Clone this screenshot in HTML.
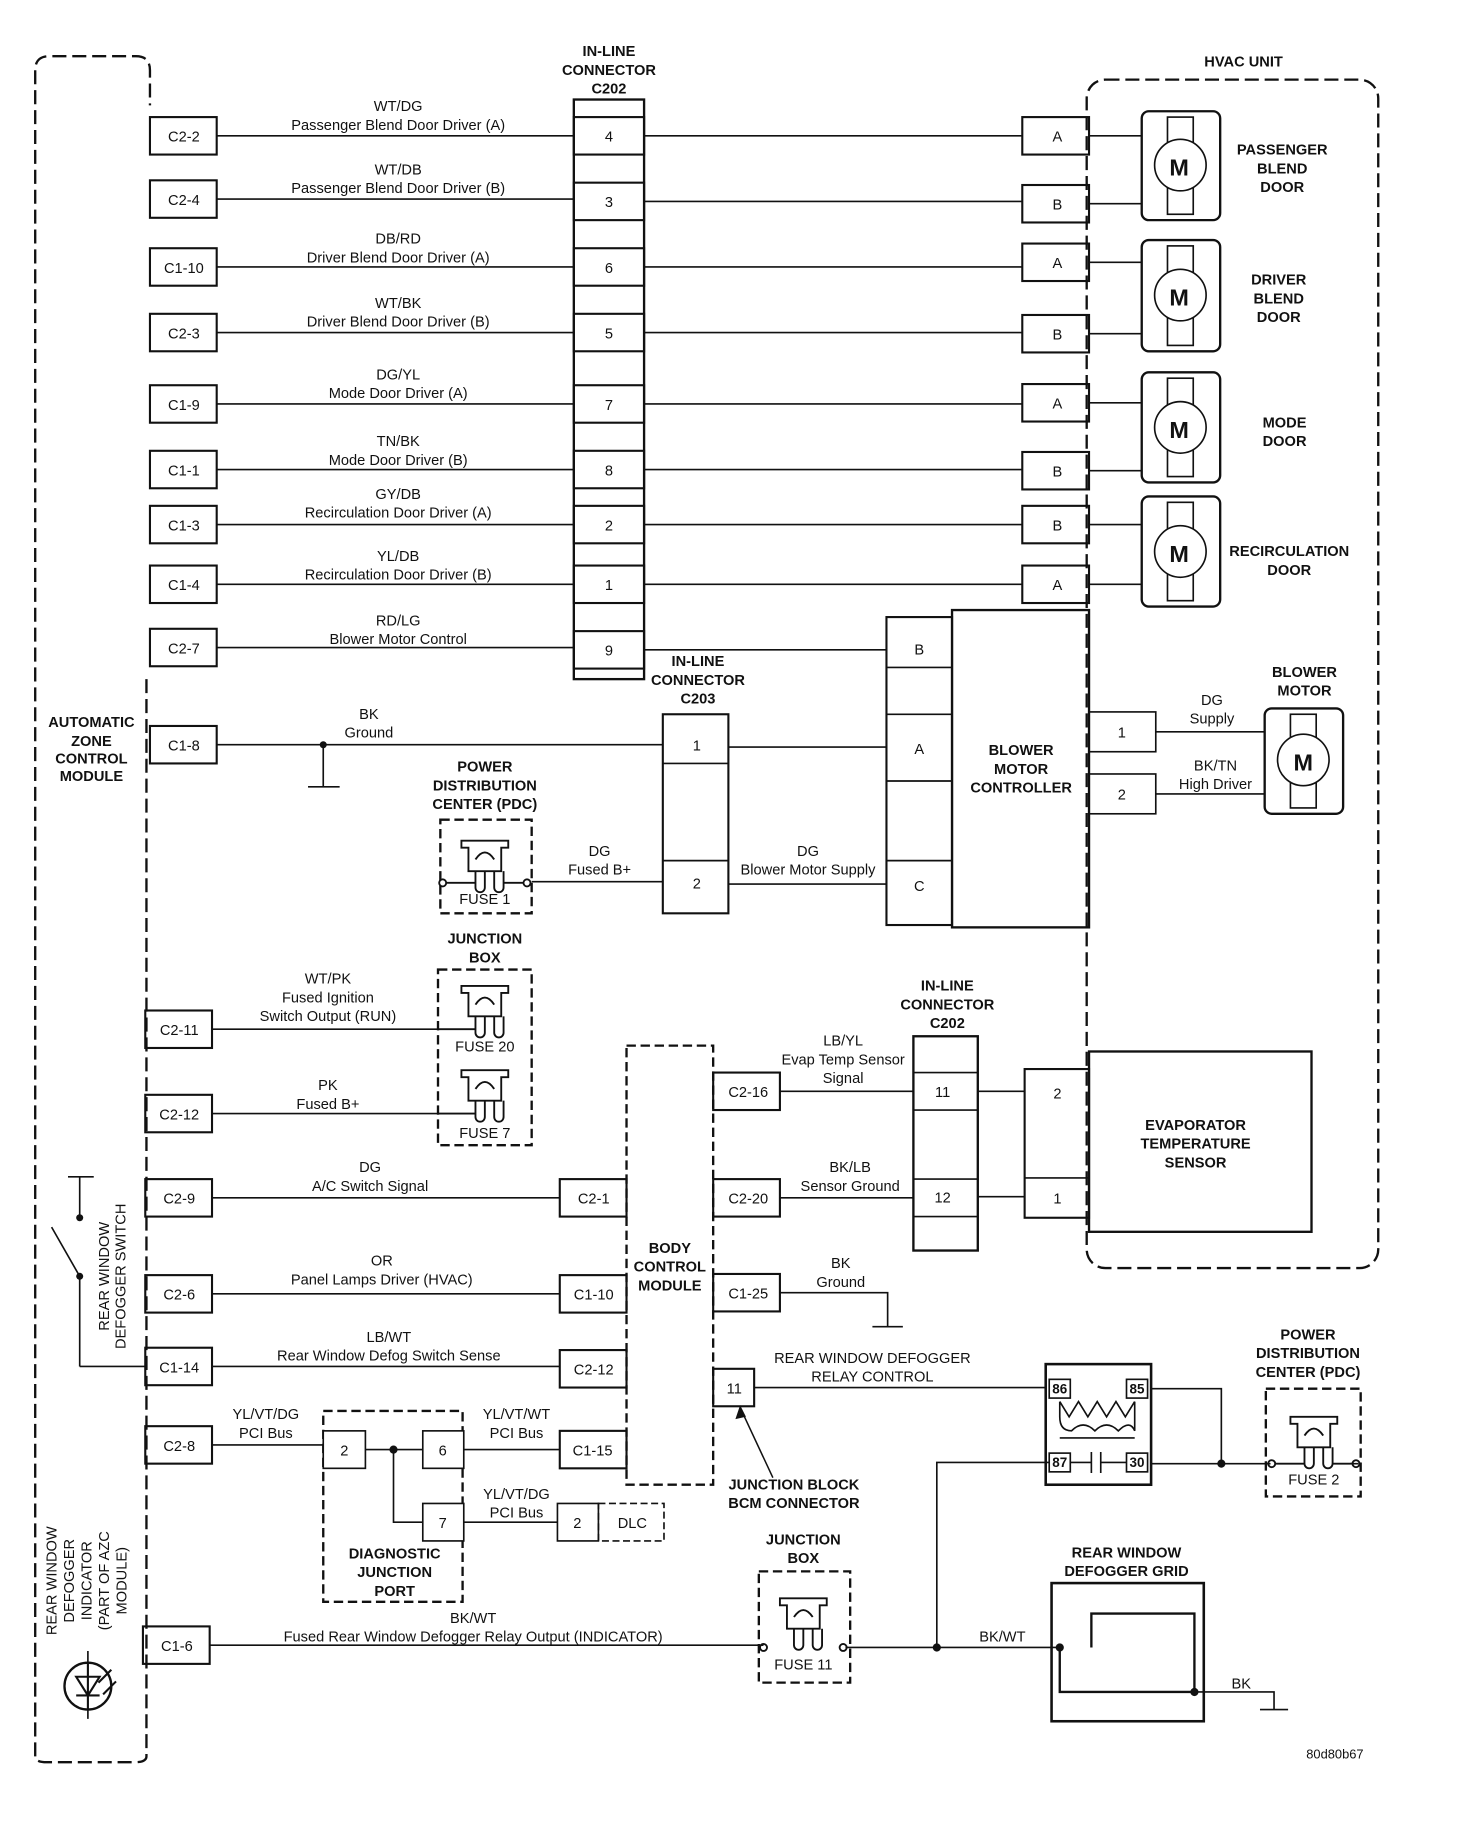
<!DOCTYPE html>
<html><head><meta charset="utf-8"><style>
html,body{margin:0;padding:0;background:#fff}
svg{display:block}
text{font-family:"Liberation Sans",Arial,sans-serif;fill:#111}
.t{font-size:12.5px;text-anchor:middle}
.b{font-size:12.5px;font-weight:bold;text-anchor:middle}
</style></head><body>
<svg width="1472" height="1836" viewBox="0 0 1257 1568" xmlns="http://www.w3.org/2000/svg">
<g fill="none" stroke="#111" stroke-width="1.4">
<path d="M30 1500 V60 Q30 48 42 48 H116 Q128 48 128 60 V90 M125 580 V1500 Q125 1505 115 1505 H40 Q30 1505 30 1500" stroke-dasharray="12 5" stroke-width="2"/>
<rect x="928" y="68" width="249" height="1015" rx="16" stroke-dasharray="12 5" stroke-width="2"/>
<rect x="490" y="85" width="60" height="495" stroke-width="2"/>
<g stroke-width="1.8">
<rect x="128" y="100" width="57" height="32"/><rect x="128" y="154" width="57" height="32"/>
<rect x="128" y="212" width="57" height="32"/><rect x="128" y="268" width="57" height="32"/>
<rect x="128" y="329" width="57" height="32"/><rect x="128" y="385" width="57" height="32"/>
<rect x="128" y="432" width="57" height="32"/><rect x="128" y="483" width="57" height="32"/>
<rect x="128" y="537" width="57" height="32"/><rect x="128" y="620" width="57" height="32"/>
<rect x="124" y="863" width="57" height="32"/><rect x="124" y="935" width="57" height="32"/>
<rect x="124" y="1007" width="57" height="32"/><rect x="124" y="1089" width="57" height="32"/>
<rect x="124" y="1151" width="57" height="32"/><rect x="124" y="1218" width="57" height="32"/>
<rect x="122" y="1389" width="57" height="32"/>
<rect x="490" y="100" width="60" height="32"/><rect x="490" y="156" width="60" height="32"/>
<rect x="490" y="212" width="60" height="32"/><rect x="490" y="268" width="60" height="32"/>
<rect x="490" y="329" width="60" height="32"/><rect x="490" y="385" width="60" height="32"/>
<rect x="490" y="432" width="60" height="32"/><rect x="490" y="483" width="60" height="32"/>
<rect x="490" y="539" width="60" height="32"/>
<rect x="873" y="100" width="57" height="32"/><rect x="873" y="158" width="57" height="32"/>
<rect x="873" y="208" width="57" height="32"/><rect x="873" y="269" width="57" height="32"/>
<rect x="873" y="328" width="57" height="32"/><rect x="873" y="386" width="57" height="32"/>
<rect x="873" y="432" width="57" height="32"/><rect x="873" y="483" width="57" height="32"/>
</g>
<path d="M185 116H490M185 170H490M185 228H490M185 284H490M185 345H490M185 401H490M185 448H490M185 499H490M185 553H490"/>
<path d="M550 116H873M550 172H873M550 228H873M550 284H873M550 345H873M550 401H873M550 448H873M550 499H873M550 555H757"/>
<path d="M930 116H975M930 174H975M930 224H975M930 285H975M930 344H975M930 402H975M930 448H975M930 499H975"/>
<g stroke-width="2">
<rect x="975" y="95" width="67" height="93" rx="6"/><rect x="975" y="205" width="67" height="95" rx="6"/>
<rect x="975" y="318" width="67" height="94" rx="6"/><rect x="975" y="424" width="67" height="94" rx="6"/>
</g>
<g fill="#fff">
<rect x="997" y="100" width="22" height="83"/><circle cx="1008" cy="141" r="22"/>
<rect x="997" y="210" width="22" height="85"/><circle cx="1008" cy="252" r="22"/>
<rect x="997" y="323" width="22" height="84"/><circle cx="1008" cy="365" r="22"/>
<rect x="997" y="429" width="22" height="84"/><circle cx="1008" cy="471" r="22"/>
</g>
<rect x="757" y="527" width="56" height="263" stroke-width="1.8"/>
<path d="M757 570H813M757 610H813M757 667H813M757 735H813"/>
<rect x="813" y="521" width="117" height="271" stroke-width="2"/>
<rect x="930" y="608" width="57" height="34"/><rect x="930" y="661" width="57" height="34"/>
<path d="M987 625H1080M987 678H1080"/>
<rect x="1080" y="605" width="67" height="90" rx="6" stroke-width="2"/>
<rect x="1102" y="610" width="22" height="80" fill="#fff"/><circle cx="1113" cy="649" r="22" fill="#fff"/>
<rect x="566" y="610" width="56" height="170" stroke-width="1.8"/>
<path d="M566 652H622M566 735H622"/>
<path d="M185 636H566M622 638H757M276 636V672M263 672H290"/>
<path d="M454 753H566M622 755H757"/>
<rect x="376" y="700" width="78" height="80" stroke-dasharray="8 4" stroke-width="2"/>
<rect x="374" y="828" width="80" height="150" stroke-dasharray="8 4" stroke-width="2"/>
<path d="M181 879H374M181 951H374"/>
<rect x="535" y="893" width="74" height="375" stroke-dasharray="8 4" stroke-width="2"/>
<g stroke-width="1.8">
<rect x="478" y="1007" width="57" height="32"/><rect x="478" y="1089" width="57" height="32"/>
<rect x="478" y="1153" width="57" height="32"/><rect x="478" y="1222" width="57" height="32"/>
<rect x="609" y="916" width="57" height="32"/><rect x="609" y="1007" width="57" height="32"/>
<rect x="609" y="1088" width="57" height="32"/><rect x="609" y="1169" width="35" height="32"/>
</g>
<path d="M181 1023H478M181 1105H478M181 1167H478M181 1234H276M312 1238H361M336 1238V1300H361M396 1238H478M396 1300H476"/>
<rect x="780" y="885" width="55" height="183" stroke-width="2"/>
<path d="M780 916H835M780 948H835M780 1007H835M780 1039H835"/>
<path d="M666 932H780M666 1023H780M835 932H875M835 1022H875"/>
<rect x="875" y="913" width="55" height="127" stroke-width="1.8"/>
<path d="M875 1006H930"/>
<rect x="930" y="898" width="190" height="154" stroke-width="2"/>
<path d="M666 1104H758V1133M745 1133H771" />
<rect x="893" y="1165" width="90" height="103" stroke-width="2.2"/>
<rect x="896" y="1178" width="18" height="16"/><rect x="962" y="1178" width="18" height="16"/>
<rect x="896" y="1241" width="18" height="16"/><rect x="962" y="1241" width="18" height="16"/>
<path d="M905 1197 L913 1210 L921 1197 L929 1210 L937 1197 L945 1210 L953 1197 L961 1210 L969 1197 M905 1197 V1210 Q905 1222 915 1222 Q925 1212 935 1222 Q945 1212 955 1222 Q965 1212 969 1222 V1197 M905 1228H969"/>
<path d="M914 1249H932M932 1240V1258M940 1240V1258M940 1249H962"/>
<path d="M644 1185H893M983 1186H1043V1250M983 1250H1085M1153 1250H1160"/>
<path d="M896 1249H800V1407"/>
<rect x="1081" y="1186" width="81" height="92" stroke-dasharray="8 4" stroke-width="2"/>
<rect x="898" y="1352" width="130" height="118" stroke-width="2.2"/>
<path d="M905 1407V1445H1020V1378H932V1407" stroke-width="2"/>
<path d="M1020 1445H1088V1460M1076 1460H1100"/>
<path d="M179 1405H652M722 1407H905"/>
<rect x="648" y="1342" width="78" height="95" stroke-dasharray="8 4" stroke-width="2"/>
<rect x="276" y="1205" width="119" height="163" stroke-dasharray="8 4" stroke-width="2"/>
<rect x="276" y="1222" width="36" height="32" fill="#fff"/>
<rect x="361" y="1222" width="35" height="32" fill="#fff"/>
<rect x="361" y="1284" width="35" height="32" fill="#fff"/>
<rect x="476" y="1284" width="35" height="32"/>
<rect x="511" y="1284" width="56" height="32" stroke-dasharray="6 3"/>
<path d="M58 1005H80M68 1005V1040M68 1167H124M68 1167V1090L44 1048"/>
<circle cx="75" cy="1440" r="20" stroke-width="2"/>
<path d="M75 1420V1460M65 1432H85L75 1448ZM65 1448H85M84 1437L95 1426M88 1447L99 1436" stroke-width="1.8"/>
<path d="M75 1460V1468M75 1410V1420"/>
</g>
<g fill="none" stroke="#111" stroke-width="1.6">
<g transform="translate(414,718)"><path d="M-20 0H20V6H14V26H-14V6H-20Z M-8 16Q0 4 8 16 M-8 26V40A4 4 0 0 0 0 40V26 M8 26V40A4 4 0 0 0 16 40V26"/><circle cx="-36" cy="36" r="3"/><circle cx="36" cy="36" r="3"/><path d="M-33 36H-8M16 36H33"/></g>
<g transform="translate(414,842)"><path d="M-20 0H20V6H14V26H-14V6H-20Z M-8 16Q0 4 8 16 M-8 26V40A4 4 0 0 0 0 40V26 M8 26V40A4 4 0 0 0 16 40V26"/><path d="M-40 37H-8"/></g>
<g transform="translate(414,914)"><path d="M-20 0H20V6H14V26H-14V6H-20Z M-8 16Q0 4 8 16 M-8 26V40A4 4 0 0 0 0 40V26 M8 26V40A4 4 0 0 0 16 40V26"/><path d="M-40 37H-8"/></g>
<g transform="translate(1122,1210)"><path d="M-20 0H20V6H14V26H-14V6H-20Z M-8 16Q0 4 8 16 M-8 26V40A4 4 0 0 0 0 40V26 M8 26V40A4 4 0 0 0 16 40V26"/><circle cx="-36" cy="40" r="3"/><circle cx="36" cy="40" r="3"/><path d="M-33 40H-8M16 40H33"/></g>
<g transform="translate(686,1365)"><path d="M-20 0H20V6H14V26H-14V6H-20Z M-8 16Q0 4 8 16 M-8 26V40A4 4 0 0 0 0 40V26 M8 26V40A4 4 0 0 0 16 40V26"/><circle cx="-34" cy="42" r="3"/><circle cx="34" cy="42" r="3"/></g>
</g>
<g fill="#111">
<circle cx="276" cy="636" r="3"/><circle cx="336" cy="1238" r="3.5"/><circle cx="1043" cy="1250" r="3.5"/>
<circle cx="800" cy="1407" r="3.5"/><circle cx="905" cy="1407" r="3.5"/><circle cx="1020" cy="1445" r="3.5"/>
<circle cx="68" cy="1040" r="3"/><circle cx="68" cy="1090" r="3"/>
<path d="M632 1200L628 1212L637 1210Z"/>
</g>
<path d="M632 1202L660 1262" stroke="#111" stroke-width="1.3"/>
<text class="b" x="520" y="48">IN-LINE</text><text class="b" x="520" y="64">CONNECTOR</text><text class="b" x="520" y="80">C202</text>
<text class="b" x="1062" y="57">HVAC UNIT</text>
<g class="t">
<text x="157" y="121">C2-2</text><text x="157" y="175">C2-4</text><text x="157" y="233">C1-10</text><text x="157" y="289">C2-3</text>
<text x="157" y="350">C1-9</text><text x="157" y="406">C1-1</text><text x="157" y="453">C1-3</text><text x="157" y="504">C1-4</text>
<text x="157" y="558">C2-7</text><text x="157" y="641">C1-8</text>
<text x="153" y="884">C2-11</text><text x="153" y="956">C2-12</text><text x="153" y="1028">C2-9</text><text x="153" y="1110">C2-6</text>
<text x="153" y="1172">C1-14</text><text x="153" y="1239">C2-8</text><text x="151" y="1410">C1-6</text>
<text x="520" y="121">4</text><text x="520" y="177">3</text><text x="520" y="233">6</text><text x="520" y="289">5</text>
<text x="520" y="350">7</text><text x="520" y="406">8</text><text x="520" y="453">2</text><text x="520" y="504">1</text><text x="520" y="560">9</text>
<text x="903" y="121">A</text><text x="903" y="179">B</text><text x="903" y="229">A</text><text x="903" y="290">B</text>
<text x="903" y="349">A</text><text x="903" y="407">B</text><text x="903" y="453">B</text><text x="903" y="504">A</text>
<text x="340" y="95">WT/DG</text><text x="340" y="111">Passenger Blend Door Driver (A)</text>
<text x="340" y="149">WT/DB</text><text x="340" y="165">Passenger Blend Door Driver (B)</text>
<text x="340" y="208">DB/RD</text><text x="340" y="224">Driver Blend Door Driver (A)</text>
<text x="340" y="263">WT/BK</text><text x="340" y="279">Driver Blend Door Driver (B)</text>
<text x="340" y="324">DG/YL</text><text x="340" y="340">Mode Door Driver (A)</text>
<text x="340" y="381">TN/BK</text><text x="340" y="397">Mode Door Driver (B)</text>
<text x="340" y="426">GY/DB</text><text x="340" y="442">Recirculation Door Driver (A)</text>
<text x="340" y="479">YL/DB</text><text x="340" y="495">Recirculation Door Driver (B)</text>
<text x="340" y="534">RD/LG</text><text x="340" y="550">Blower Motor Control</text>
<text x="315" y="614">BK</text><text x="315" y="630">Ground</text>
<text x="512" y="731">DG</text><text x="512" y="747">Fused B+</text>
<text x="690" y="731">DG</text><text x="690" y="747">Blower Motor Supply</text>
<text x="785" y="559">B</text><text x="785" y="644">A</text><text x="785" y="761">C</text>
<text x="595" y="641">1</text><text x="595" y="759">2</text>
<text x="958" y="630">1</text><text x="958" y="683">2</text>
<text x="1035" y="602">DG</text><text x="1035" y="618">Supply</text>
<text x="1038" y="658">BK/TN</text><text x="1038" y="674">High Driver</text>
<text x="414" y="772">FUSE 1</text><text x="414" y="898">FUSE 20</text><text x="414" y="972">FUSE 7</text>
<text x="1122" y="1268">FUSE 2</text><text x="686" y="1426">FUSE 11</text>
<text x="280" y="840">WT/PK</text><text x="280" y="856">Fused Ignition</text><text x="280" y="872">Switch Output (RUN)</text>
<text x="280" y="931">PK</text><text x="280" y="947">Fused B+</text>
<text x="316" y="1001">DG</text><text x="316" y="1017">A/C Switch Signal</text>
<text x="326" y="1081">OR</text><text x="326" y="1097">Panel Lamps Driver (HVAC)</text>
<text x="332" y="1146">LB/WT</text><text x="332" y="1162">Rear Window Defog Switch Sense</text>
<text x="227" y="1212">YL/VT/DG</text><text x="227" y="1228">PCI Bus</text>
<text x="441" y="1212">YL/VT/WT</text><text x="441" y="1228">PCI Bus</text>
<text x="441" y="1280">YL/VT/DG</text><text x="441" y="1296">PCI Bus</text>
<text x="404" y="1386">BK/WT</text><text x="404" y="1402">Fused Rear Window Defogger Relay Output (INDICATOR)</text>
<text x="507" y="1028">C2-1</text><text x="507" y="1110">C1-10</text><text x="507" y="1174">C2-12</text><text x="506" y="1243">C1-15</text>
<text x="639" y="937">C2-16</text><text x="639" y="1028">C2-20</text><text x="639" y="1109">C1-25</text><text x="627" y="1190">11</text>
<text x="720" y="893">LB/YL</text><text x="720" y="909">Evap Temp Sensor</text><text x="720" y="925">Signal</text>
<text x="726" y="1001">BK/LB</text><text x="726" y="1017">Sensor Ground</text>
<text x="718" y="1083">BK</text><text x="718" y="1099">Ground</text>
<text x="805" y="937">11</text><text x="805" y="1027">12</text>
<text x="903" y="938">2</text><text x="903" y="1028">1</text>
<text x="745" y="1164">REAR WINDOW DEFOGGER</text><text x="745" y="1180">RELAY CONTROL</text>
<text x="294" y="1243">2</text><text x="378" y="1243">6</text><text x="378" y="1305">7</text><text x="493" y="1305">2</text><text x="540" y="1305">DLC</text>
<text x="856" y="1402">BK/WT</text><text x="1060" y="1442">BK</text>
<text x="1140" y="1502" style="font-size:11px">80d80b67</text>
</g>
<g style="font-size:11.5px;font-weight:bold;text-anchor:middle">
<text x="1007" y="150" style="font-size:20px">M</text><text x="1007" y="261" style="font-size:20px">M</text>
<text x="1007" y="374" style="font-size:20px">M</text><text x="1007" y="480" style="font-size:20px">M</text>
<text x="1113" y="658" style="font-size:20px">M</text>
<text x="905" y="1190">86</text><text x="971" y="1190">85</text><text x="905" y="1253">87</text><text x="971" y="1253">30</text>
</g>
<g class="b">
<text x="1095" y="132">PASSENGER</text><text x="1095" y="148">BLEND</text><text x="1095" y="164">DOOR</text>
<text x="1092" y="243">DRIVER</text><text x="1092" y="259">BLEND</text><text x="1092" y="275">DOOR</text>
<text x="1097" y="365">MODE</text><text x="1097" y="381">DOOR</text>
<text x="1101" y="475">RECIRCULATION</text><text x="1101" y="491">DOOR</text>
<text x="1114" y="578">BLOWER</text><text x="1114" y="594">MOTOR</text>
<text x="872" y="645">BLOWER</text><text x="872" y="661">MOTOR</text><text x="872" y="677">CONTROLLER</text>
<text x="596" y="569">IN-LINE</text><text x="596" y="585">CONNECTOR</text><text x="596" y="601">C203</text>
<text x="78" y="621">AUTOMATIC</text><text x="78" y="637">ZONE</text><text x="78" y="652">CONTROL</text><text x="78" y="667">MODULE</text>
<text x="414" y="659">POWER</text><text x="414" y="675">DISTRIBUTION</text><text x="414" y="691">CENTER (PDC)</text>
<text x="414" y="806">JUNCTION</text><text x="414" y="822">BOX</text>
<text x="809" y="846">IN-LINE</text><text x="809" y="862">CONNECTOR</text><text x="809" y="878">C202</text>
<text x="1021" y="965">EVAPORATOR</text><text x="1021" y="981">TEMPERATURE</text><text x="1021" y="997">SENSOR</text>
<text x="572" y="1070">BODY</text><text x="572" y="1086">CONTROL</text><text x="572" y="1102">MODULE</text>
<text x="678" y="1272">JUNCTION BLOCK</text><text x="678" y="1288">BCM CONNECTOR</text>
<text x="1117" y="1144">POWER</text><text x="1117" y="1160">DISTRIBUTION</text><text x="1117" y="1176">CENTER (PDC)</text>
<text x="686" y="1319">JUNCTION</text><text x="686" y="1335">BOX</text>
<text x="962" y="1330">REAR WINDOW</text><text x="962" y="1346">DEFOGGER GRID</text>
<text x="337" y="1331">DIAGNOSTIC</text><text x="337" y="1347">JUNCTION</text><text x="337" y="1363">PORT</text>
</g>
<g class="t">
<text transform="translate(93,1090) rotate(-90)">REAR WINDOW</text>
<text transform="translate(107,1090) rotate(-90)">DEFOGGER SWITCH</text>
<text transform="translate(48,1350) rotate(-90)">REAR WINDOW</text>
<text transform="translate(63,1350) rotate(-90)">DEFOGGER</text>
<text transform="translate(78,1350) rotate(-90)">INDICATOR</text>
<text transform="translate(93,1350) rotate(-90)">(PART OF AZC</text>
<text transform="translate(108,1350) rotate(-90)">MODULE)</text>
</g>
</svg>
</body></html>
